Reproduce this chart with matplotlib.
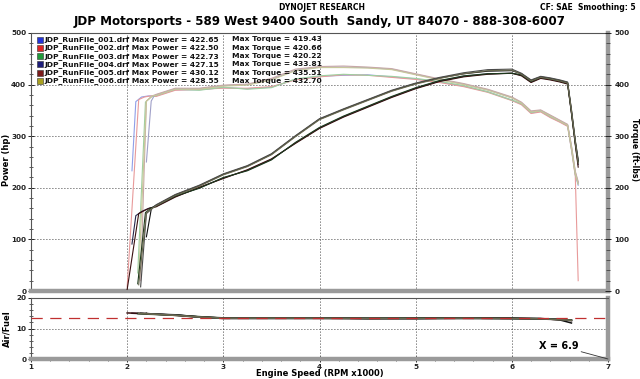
import matplotlib
matplotlib.use("Agg")
import matplotlib.pyplot as plt
from matplotlib.patches import Rectangle
from matplotlib.ticker import MultipleLocator

plt.rcParams['font.family'] = ['DejaVu Sans']
plt.rcParams['font.weight'] = 'bold'

# ---------------- data ----------------
run_names = ["JDP_RunFile_001.drf", "JDP_RunFile_002.drf", "JDP_RunFile_003.drf",
             "JDP_RunFile_004.drf", "JDP_RunFile_005.drf", "JDP_RunFile_006.drf"]
max_power = ["422.65", "422.50", "422.73", "427.15", "430.12", "428.55"]
max_torque = ["419.43", "420.66", "420.22", "433.81", "435.51", "432.70"]
legend_colors = ["#2333d8", "#e02424", "#1f9a3a", "#1c1c7a", "#7a1a1a", "#a8a020"]
power_colors = ["#26264a", "#3a1010", "#1c3a1c", "#101010", "#4a4a4a", "#6a6a50"]
torque_colors = ["#8f9fe8", "#e89a9a", "#9fd0a0", "#a0a0c8", "#c8a8a8", "#c8c89a"]

rpm_tail = [2.3, 2.5, 2.75, 3.0, 3.25, 3.5, 3.75, 4.0, 4.25, 4.5, 4.75, 5.0, 5.25,
            5.5, 5.75, 6.0, 6.1, 6.2, 6.3, 6.4, 6.5, 6.58, 6.62, 6.66, 6.69]

rpm_start_1 = [2.05, 2.09, 2.15, 2.22]
rpm_start_2 = [2.00, 2.12, 2.18, 2.24]
rpm_start_3 = [2.11, 2.19, 2.25]
rpm_start_4 = [2.20, 2.25, 2.28]
rpm_start_5 = [2.14, 2.20, 2.26]
rpm_start_6 = [2.12, 2.20, 2.26]

hp_1 = [91, 146, 154, 160,
        164, 183, 200, 219, 234, 255, 287, 316, 338, 357, 376, 393, 407,
        416, 421, 422, 418, 405, 413, 410, 406, 402, 345, 285, 245]
hp_2 = [3, 150, 156, 161,
        163, 182, 201, 218, 235, 256, 286, 315, 337, 356, 375, 392, 406,
        415, 420, 422, 417, 404, 412, 409, 405, 401, 344, 283, 240]
hp_3 = [14, 152, 161,
        165, 184, 199, 220, 233, 254, 288, 317, 339, 358, 377, 394, 408,
        417, 421, 422, 419, 406, 414, 411, 407, 403, 346, 287, 250]
hp_4 = [105, 158, 164,
        166, 186, 204, 226, 242, 265, 300, 333, 352, 370, 388, 402, 413,
        421, 426, 427, 421, 408, 415, 412, 408, 404, 350, 290, 252]
hp_5 = [8, 150, 160,
        167, 187, 205, 227, 243, 266, 301, 334, 353, 371, 389, 403, 414,
        423, 429, 430, 422, 409, 416, 413, 409, 405, 352, 292, 255]
hp_6 = [12, 152, 160,
        165, 185, 203, 225, 241, 264, 299, 332, 351, 369, 387, 401, 412,
        421, 427, 428, 420, 407, 414, 411, 407, 403, 348, 288, 248]

tq_1 = [233, 367, 376, 378,
        378, 390, 390, 394, 392, 395, 410, 416, 418, 419, 415, 411, 405,
        397, 386, 370, 362, 345, 348, 337, 328, 320, 275, 225, 205]
tq_2 = [8, 371, 376, 378,
        377, 389, 391, 393, 393, 396, 409, 415, 419, 418, 414, 410, 404,
        396, 385, 369, 361, 344, 347, 336, 327, 319, 274, 222, 20]
tq_3 = [35, 366, 376,
        379, 391, 389, 395, 391, 394, 411, 417, 420, 418, 416, 412, 406,
        398, 386, 370, 363, 346, 349, 338, 329, 321, 276, 226, 208]
tq_4 = [250, 368, 378,
        380, 392, 392, 398, 400, 410, 428, 434, 434, 433, 430, 420, 410,
        401, 390, 375, 365, 348, 350, 340, 330, 322, 280, 230, 210]
tq_5 = [20, 368, 378,
        381, 393, 393, 399, 401, 412, 430, 435, 436, 434, 431, 421, 411,
        402, 391, 376, 366, 349, 351, 341, 331, 323, 282, 232, 212]
tq_6 = [28, 368, 378,
        379, 391, 391, 397, 399, 409, 427, 433, 433, 432, 429, 419, 409,
        400, 389, 374, 364, 347, 349, 339, 329, 321, 278, 228, 207]

af_rpm = [2.0, 2.2, 2.5, 2.75, 3.0, 3.5, 4.0, 4.5, 5.0, 5.5, 6.0, 6.3, 6.5, 6.62]
af_1 = [15.0, 14.8, 14.4, 13.8, 13.4, 13.4, 13.4, 13.3, 13.3, 13.4, 13.3, 13.2, 13.0, 12.7]
af_2 = [15.1, 14.9, 14.3, 13.7, 13.3, 13.3, 13.3, 13.2, 13.3, 13.3, 13.3, 13.1, 12.9, 12.6]
af_3 = [14.9, 14.7, 14.4, 13.9, 13.4, 13.5, 13.4, 13.4, 13.4, 13.4, 13.3, 13.2, 13.0, 12.8]
af_4 = [15.0, 14.8, 14.5, 13.8, 13.5, 13.4, 13.5, 13.3, 13.3, 13.5, 13.4, 13.3, 12.8, 11.8]
af_5 = [15.1, 14.9, 14.4, 13.7, 13.3, 13.3, 13.3, 13.3, 13.2, 13.3, 13.2, 13.1, 13.0, 12.6]
af_6 = [14.9, 14.8, 14.3, 13.8, 13.4, 13.4, 13.4, 13.3, 13.3, 13.4, 13.3, 13.2, 12.9, 12.7]
af_target = 13.3
x_marker_label = "X = 6.9"
x_marker_value = 6.9

rpm_starts = [rpm_start_1, rpm_start_2, rpm_start_3, rpm_start_4, rpm_start_5, rpm_start_6]
hps = [hp_1, hp_2, hp_3, hp_4, hp_5, hp_6]
tqs = [tq_1, tq_2, tq_3, tq_4, tq_5, tq_6]
afs = [af_1, af_2, af_3, af_4, af_5, af_6]

# ---------------- figure ----------------
W, H = 640, 379
fig = plt.figure(figsize=(W / 100, H / 100), dpi=100)
fig.patch.set_facecolor("white")

def fx(px):
    return px / W

def fy(py):
    return 1 - py / H

x_left, x_right = 31, 608
ax1 = fig.add_axes([fx(x_left), fy(291), fx(x_right - x_left), (291 - 33) / H])
ax2 = fig.add_axes([fx(x_left), fy(359), fx(x_right - x_left), (359 - 298) / H])

TICK_FS = 5.2
GRID_LS = (0, (1, 2.6))

def style_frame(ax):
    for side in ["left", "top"]:
        ax.spines[side].set_color("#555555")
        ax.spines[side].set_linewidth(0.8)
    for side in ["right", "bottom"]:
        ax.spines[side].set_color("#9a9a9a")
        ax.spines[side].set_linewidth(3.2)

# ----- top: power & torque -----
for k in range(6):
    rpm = rpm_starts[k] + rpm_tail
    ax1.plot(rpm, tqs[k], color=torque_colors[k], lw=0.8, zorder=3)
for k in range(6):
    rpm = rpm_starts[k] + rpm_tail
    ax1.plot(rpm, hps[k], color=power_colors[k], lw=0.8, zorder=4)

ax1.set_xlim(1, 7)
ax1.set_ylim(0, 500)
for xv in [2, 3, 4, 5, 6]:
    ax1.axvline(xv, color="black", lw=0.6, ls=GRID_LS, zorder=1)
for yv in [100, 200, 300, 400]:
    ax1.axhline(yv, color="black", lw=0.6, ls=GRID_LS, zorder=1)
ax1.yaxis.set_major_locator(MultipleLocator(100))
ax1.yaxis.set_minor_locator(MultipleLocator(20))
ax1.set_xticks([])
ax1.tick_params(axis="y", which="major", direction="inout", length=5, width=0.7,
                labelsize=TICK_FS, pad=1, colors="#222222")
ax1.tick_params(axis="y", which="minor", direction="inout", length=3, width=0.6, colors="#444444")
style_frame(ax1)

ax1r = ax1.twinx()
ax1r.set_ylim(0, 500)
ax1r.yaxis.set_major_locator(MultipleLocator(100))
ax1r.yaxis.set_minor_locator(MultipleLocator(20))
ax1r.tick_params(axis="y", which="major", direction="inout", length=5, width=0.7,
                 labelsize=TICK_FS, pad=2, colors="#222222")
ax1r.tick_params(axis="y", which="minor", direction="inout", length=3, width=0.6, colors="#444444")
for s in ax1r.spines.values():
    s.set_visible(False)

fig.text(fx(7), fy(160), "Power (hp)", fontsize=6, fontweight="bold",
         rotation=90, ha="center", va="center")
fig.text(fx(634), fy(150), "Torque (ft-lbs)", fontsize=5.6, fontweight="bold",
         rotation=270, ha="center", va="center")

# legend
row_y0, row_dy = 39.5, 8.3
for k in range(6):
    yy = row_y0 + k * row_dy
    fig.patches.append(Rectangle((fx(37), fy(yy + 3)), 5.5 / W, 6 / H,
                                 transform=fig.transFigure, facecolor=legend_colors[k],
                                 edgecolor="#333333", lw=0.4))
    fig.text(fx(44), fy(yy), f"{run_names[k]} Max Power = {max_power[k]}",
             fontsize=5.4, fontweight="bold", va="center", ha="left", color="#111111")
    fig.text(fx(232), fy(yy), f"Max Torque = {max_torque[k]}",
             fontsize=5.4, fontweight="bold", va="center", ha="left", color="#111111")

# ----- bottom: air/fuel -----
for k in range(6):
    rpm = [max(r, rpm_starts[k][0]) for r in af_rpm]
    ax2.plot(rpm, afs[k], color=power_colors[k], lw=1.1, zorder=3)
ax2.axhline(af_target, color="#c03030", lw=0.9, ls=(0, (9, 6)), zorder=4)
ax2.set_xlim(1, 7)
ax2.set_ylim(0, 20)
for xv in [2, 3, 4, 5, 6]:
    ax2.axvline(xv, color="black", lw=0.6, ls=GRID_LS, zorder=1)
ax2.axhline(10, color="black", lw=0.6, ls=GRID_LS, zorder=1)
ax2.yaxis.set_major_locator(MultipleLocator(10))
ax2.yaxis.set_minor_locator(MultipleLocator(2))
ax2.xaxis.set_major_locator(MultipleLocator(1))
ax2.xaxis.set_minor_locator(MultipleLocator(0.2))
ax2.tick_params(axis="both", which="major", direction="inout", length=5, width=0.7,
                labelsize=TICK_FS, pad=1, colors="#222222")
ax2.tick_params(axis="both", which="minor", direction="inout", length=3, width=0.6, colors="#444444")
style_frame(ax2)
fig.text(fx(7), fy(329), "Air/Fuel", fontsize=6, fontweight="bold",
         rotation=90, ha="center", va="center")
fig.text(fx(320), fy(374), "Engine Speed (RPM x1000)", fontsize=6, fontweight="bold",
         ha="center", va="center")
ax2.annotate(x_marker_label, xy=(7, 0), xytext=(x_marker_value - 0.62, 4.4),
             fontsize=7, fontweight="bold", ha="left", va="center",
             arrowprops=dict(arrowstyle="-", color="#333333", lw=0.6,
                             shrinkA=0, shrinkB=0), annotation_clip=False)

# ----- titles -----
fig.text(fx(322), fy(7.5), "DYNOJET RESEARCH", fontsize=5.5, fontweight="bold", ha="center", va="center")
fig.text(fx(636), fy(7.5), "CF: SAE  Smoothing: 5", fontsize=5.5, fontweight="bold", ha="right", va="center")
fig.text(fx(320), fy(21), "JDP Motorsports - 589 West 9400 South  Sandy, UT 84070 - 888-308-6007",
         fontsize=8.6, fontweight="bold", ha="center", va="center")

fig.savefig("out.png", dpi=100, facecolor="white")
